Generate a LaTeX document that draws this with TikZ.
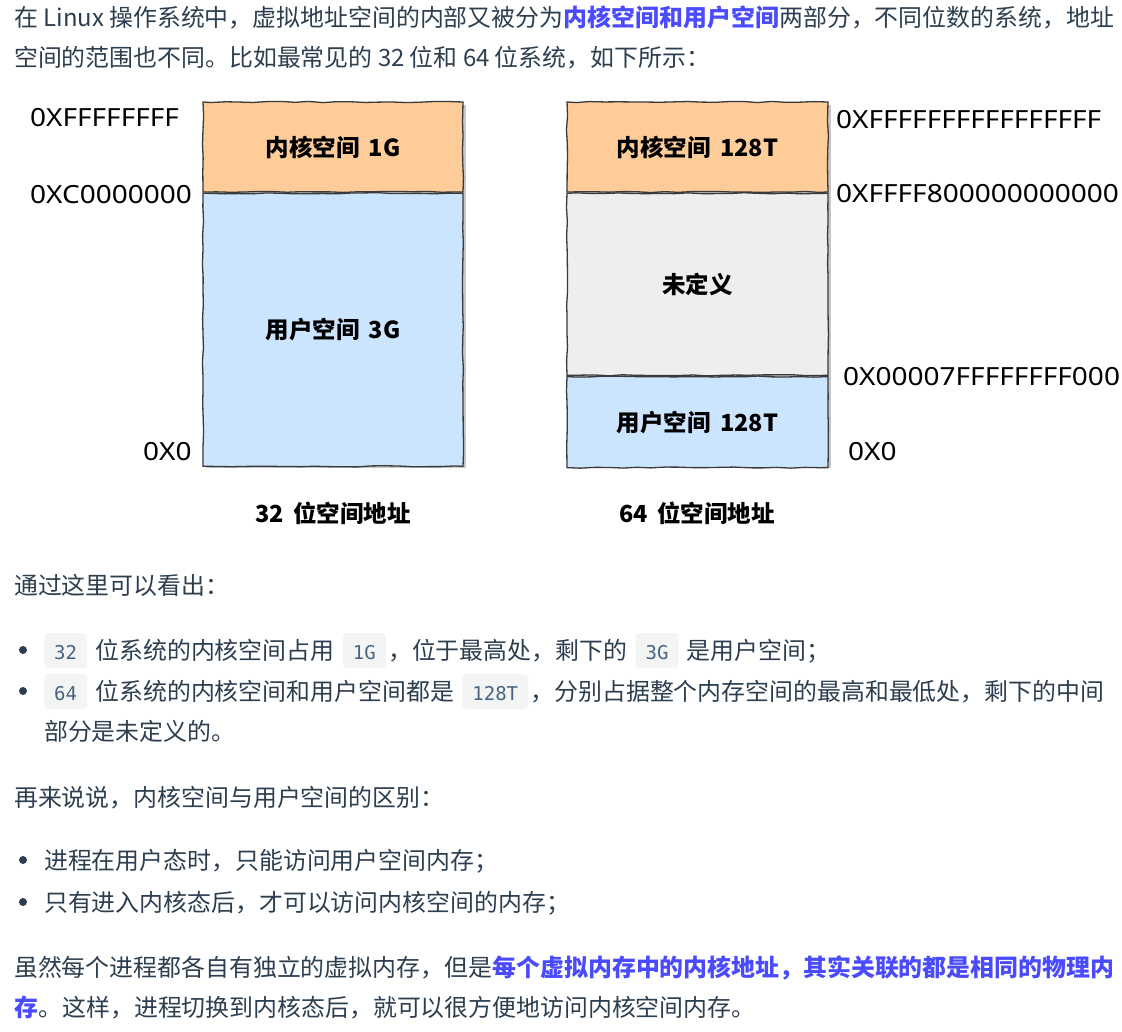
\documentclass[tikz,border=0pt]{standalone}
\usepackage{fontspec}
\usetikzlibrary{decorations.pathmorphing,calc}
\setmainfont{Noto Sans CJK SC}
\newfontfamily\cjk{Noto Sans CJK SC}
\newfontfamily\labfont{Noto Sans}[FakeStretch=1.12]
\newfontfamily\chipfont{DejaVu Sans Mono}
\definecolor{txt}{HTML}{2C3E50}
\definecolor{hlblue}{RGB}{74,74,255}
\definecolor{chipbg}{HTML}{F3F4F4}
\definecolor{chiptxt}{HTML}{476582}
\definecolor{orangefill}{RGB}{253,204,153}
\definecolor{bluefill}{RGB}{204,229,255}
\definecolor{greyfill}{RGB}{238,238,238}
\definecolor{boxline}{HTML}{3A3A3A}
\tikzset{
  body/.style={anchor=base west, inner sep=0pt, text=txt, font=\cjk\fontsize{23.9}{28}\selectfont},
  hl/.style={anchor=base west, inner sep=0pt, text=hlblue, font=\cjk\bfseries\fontsize{23.9}{28}\selectfont},
  chip/.style={anchor=base west, inner xsep=10pt, inner ysep=0pt, text height=26pt, text depth=9pt,
    fill=chipbg, rounded corners=4pt, text=chiptxt, font=\chipfont\fontsize{19}{22}\selectfont},
  bdot/.style={circle, fill=txt, inner sep=0pt, minimum size=8pt},
  membox/.style={draw=boxline, line width=1.3pt, inner sep=0pt, text=black,
    font=\cjk\bfseries\fontsize{23.5}{28}\selectfont,
    decorate, decoration={random steps, segment length=14pt, amplitude=0.6pt}},
  addr/.style={anchor=west, inner sep=0pt, text=black, font=\labfont\fontsize{25}{30}\selectfont},
  captext/.style={inner sep=0pt, text=black, font=\cjk\bfseries\fontsize{23.5}{28}\selectfont},
  shadowc/.style={fill=black!22}
}
\begin{document}
\begin{tikzpicture}[x=1pt,y=-1pt]
\pgfmathsetseed{7}
\fill[white] (0,0) rectangle (1122,1032);
\useasboundingbox (0,0) rectangle (1122,1032);

% intro paragraph
\node[body] (t1a) at (14,27) {在 Linux 操作系统中，虚拟地址空间的内部又被分为};
\node[hl] (t1b) at (t1a.base east) {内核空间和用户空间};
\node[body] (t1c) at (t1b.base east) {两部分，不同位数的系统，地址};
\node[body] (t2) at (14,67) {空间的范围也不同。比如最常见的 32 位和 64 位系统，如下所示：};

% ---- 32-bit diagram ----
\fill[shadowc] (206,105) rectangle (466,468);
\node[membox, fill=orangefill, minimum width=260pt, minimum height=90pt] (k32) at (333,147) {内核空间\hspace{0.4em}1G};
\node[membox, fill=bluefill, minimum width=260pt, minimum height=273pt, anchor=north] (u32) at (k32.south) {用户空间\hspace{0.4em}3G};
\node[addr] (a32top) at (30,118) {0XFFFFFFFF};
\node[addr] (a32mid) at (30,195) {0XC0000000};
\node[addr] (a32bot) at (143,452) {0X0};
\node[captext] (cap32) at (333,513) {32\hspace{0.4em}位空间地址};

% ---- 64-bit diagram ----
\fill[shadowc] (570,105) rectangle (831,468);
\node[membox, fill=orangefill, minimum width=261pt, minimum height=90pt] (k64) at (697.5,147) {内核空间\hspace{0.4em}128T};
\node[membox, fill=greyfill, minimum width=261pt, minimum height=182pt, anchor=north] (n64) at (k64.south) {未定义};
\node[membox, fill=bluefill, minimum width=261pt, minimum height=91pt, anchor=north] (u64) at (n64.south) {用户空间\hspace{0.4em}128T};
\node[addr] (a64top) at (836,120) {0XFFFFFFFFFFFFFFFF};
\node[addr] (a64k) at (836,194) {0XFFFF800000000000};
\node[addr] (a64u) at (843,377) {0X00007FFFFFFFF000};
\node[addr] (a64bot) at (848,452) {0X0};
\node[captext] (cap64) at (697,513) {64\hspace{0.4em}位空间地址};

% ---- observations ----
\node[body] (o1) at (14,594) {通过这里可以看出：};

\node[bdot] (d1) at (23,650) {};
\node[chip] (c1a) at (44,659) {32};
\node[body] (l1a) at ($(c1a.base east)+(8,0)$) {位系统的内核空间占用};
\node[chip] (c1b) at ($(l1a.base east)+(8,0)$) {1G};
\node[body] (l1b) at ($(c1b.base east)+(2,0)$) {，位于最高处，剩下的};
\node[chip] (c1c) at ($(l1b.base east)+(8,0)$) {3G};
\node[body] (l1c) at ($(c1c.base east)+(8,0)$) {是用户空间；};

\node[bdot] (d2) at (23,691) {};
\node[chip] (c2a) at (44,700) {64};
\node[body] (l2a) at ($(c2a.base east)+(8,0)$) {位系统的内核空间和用户空间都是};
\node[chip] (c2b) at ($(l2a.base east)+(8,0)$) {128T};
\node[body] (l2b) at ($(c2b.base east)+(2,0)$) {，分别占据整个内存空间的最高和最低处，剩下的中间};
\node[body] (l2c) at (44,740) {部分是未定义的。};

% ---- difference ----
\node[body] (o2) at (14,806) {再来说说，内核空间与用户空间的区别：};
\node[bdot] (d3) at (23,860) {};
\node[body] (l3) at (44,869) {进程在用户态时，只能访问用户空间内存；};
\node[bdot] (d4) at (23,902) {};
\node[body] (l4) at (44,911) {只有进入内核态后，才可以访问内核空间的内存；};

% ---- closing paragraph ----
\node[body] (p1a) at (14,976) {虽然每个进程都各自有独立的虚拟内存，但是};
\node[hl] (p1b) at (p1a.base east) {每个虚拟内存中的内核地址，其实关联的都是相同的物理内};
\node[hl] (p2a) at (14,1016) {存};
\node[body] (p2b) at (p2a.base east) {。这样，进程切换到内核态后，就可以很方便地访问内核空间内存。};
\end{tikzpicture}
\end{document}
